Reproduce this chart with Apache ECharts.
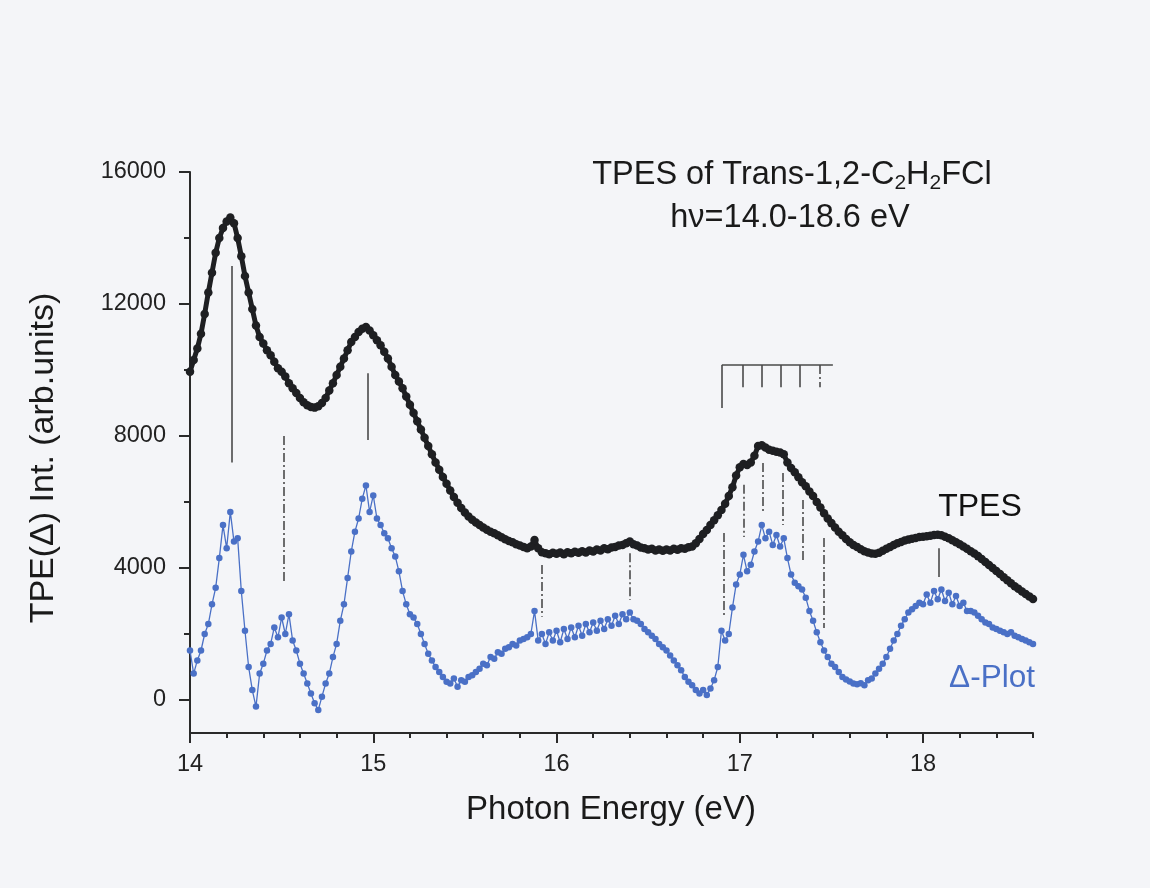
<!DOCTYPE html>
<html><head><meta charset="utf-8">
<script src="https://cdn.jsdelivr.net/npm/echarts@6/dist/echarts.min.js"></script>
<style>html,body{margin:0;padding:0;background:#f4f5f8}#c{width:1150px;height:888px}</style>
</head><body><div id="c"></div>
<script>
// Photon energy grid (eV)
const energy=[
14.00,14.02,14.04,14.06,14.08,14.10,14.12,14.14,14.16,14.18,
14.20,14.22,14.24,14.26,14.28,14.30,14.32,14.34,14.36,14.38,
14.40,14.42,14.44,14.46,14.48,14.50,14.52,14.54,14.56,14.58,
14.60,14.62,14.64,14.66,14.68,14.70,14.72,14.74,14.76,14.78,
14.80,14.82,14.84,14.86,14.88,14.90,14.92,14.94,14.96,14.98,
15.00,15.02,15.04,15.06,15.08,15.10,15.12,15.14,15.16,15.18,
15.20,15.22,15.24,15.26,15.28,15.30,15.32,15.34,15.36,15.38,
15.40,15.42,15.44,15.46,15.48,15.50,15.52,15.54,15.56,15.58,
15.60,15.62,15.64,15.66,15.68,15.70,15.72,15.74,15.76,15.78,
15.80,15.82,15.84,15.86,15.88,15.90,15.92,15.94,15.96,15.98,
16.00,16.02,16.04,16.06,16.08,16.10,16.12,16.14,16.16,16.18,
16.20,16.22,16.24,16.26,16.28,16.30,16.32,16.34,16.36,16.38,
16.40,16.42,16.44,16.46,16.48,16.50,16.52,16.54,16.56,16.58,
16.60,16.62,16.64,16.66,16.68,16.70,16.72,16.74,16.76,16.78,
16.80,16.82,16.84,16.86,16.88,16.90,16.92,16.94,16.96,16.98,
17.00,17.02,17.04,17.06,17.08,17.10,17.12,17.14,17.16,17.18,
17.20,17.22,17.24,17.26,17.28,17.30,17.32,17.34,17.36,17.38,
17.40,17.42,17.44,17.46,17.48,17.50,17.52,17.54,17.56,17.58,
17.60,17.62,17.64,17.66,17.68,17.70,17.72,17.74,17.76,17.78,
17.80,17.82,17.84,17.86,17.88,17.90,17.92,17.94,17.96,17.98,
18.00,18.02,18.04,18.06,18.08,18.10,18.12,18.14,18.16,18.18,
18.20,18.22,18.24,18.26,18.28,18.30,18.32,18.34,18.36,18.38,
18.40,18.42,18.44,18.46,18.48,18.50,18.52,18.54,18.56,18.58,
18.60];
// TPES intensity (black)
const tpes=[
9950,10300,10650,11100,11700,12350,12950,13550,14000,14300,
14500,14620,14450,14000,13450,12850,12350,11850,11350,11000,
10800,10600,10450,10250,10050,9950,9800,9600,9450,9300,
9150,9020,8930,8880,8860,8900,9000,9150,9380,9600,
9850,10100,10350,10600,10850,11000,11150,11250,11300,11200,
11050,10900,10750,10550,10350,10100,9850,9650,9450,9200,
8950,8700,8450,8200,7950,7700,7450,7200,6980,6760,
6550,6350,6150,5980,5820,5680,5560,5460,5380,5300,
5230,5160,5100,5050,4990,4930,4870,4820,4780,4720,
4680,4640,4600,4650,4850,4600,4480,4450,4420,4460,
4430,4470,4420,4480,4450,4490,4460,4510,4470,4530,
4500,4560,4530,4600,4570,4620,4640,4680,4700,4750,
4800,4720,4680,4620,4600,4560,4580,4530,4560,4520,
4560,4530,4580,4550,4600,4580,4630,4650,4750,4880,
5030,5150,5300,5450,5600,5760,5950,6180,6450,6800,
7050,7150,7120,7200,7400,7700,7720,7650,7580,7550,
7520,7500,7450,7200,7030,6900,6750,6600,6480,6320,
6180,6000,5830,5660,5500,5360,5230,5100,4990,4880,
4780,4700,4640,4570,4510,4470,4440,4430,4460,4520,
4580,4640,4700,4750,4790,4830,4860,4890,4910,4940,
4950,4960,4980,5000,5010,4990,4950,4900,4840,4780,
4720,4650,4580,4510,4440,4360,4270,4180,4090,4000,
3910,3820,3720,3630,3540,3450,3370,3290,3210,3140,
3060];
// Delta-plot intensity (blue)
const delta=[
1500,800,1200,1500,2000,2300,2900,3400,4300,5300,
4600,5700,4800,4900,3300,2100,1000,300,-200,800,
1100,1500,1700,2200,1900,2500,2000,2600,1800,1500,
1100,800,500,200,-100,-300,100,500,800,1300,
1700,2400,2900,3700,4500,5100,5500,6100,6500,5700,
6200,5500,5300,5050,4900,4600,4350,3900,3300,2900,
2600,2500,2300,2000,1700,1400,1200,1000,850,700,
550,500,650,400,600,550,700,750,850,950,
1100,1050,1300,1250,1450,1400,1550,1600,1700,1650,
1800,1850,1900,2000,2700,1800,2000,1700,2050,1800,
2100,1750,2150,1850,2200,1900,2250,1950,2300,2050,
2350,2100,2400,2150,2450,2250,2550,2300,2600,2450,
2650,2450,2400,2300,2150,2050,1950,1850,1700,1600,
1500,1350,1200,1050,900,700,550,450,300,200,
300,150,350,600,1000,2100,1800,2000,2800,3500,
3800,4400,3900,4100,4500,4800,5300,4900,5100,4700,
5000,4650,4900,4300,3800,3550,3450,3350,3100,2700,
2400,2050,1750,1500,1300,1100,1000,850,700,620,
560,500,480,510,450,600,650,800,950,1100,
1300,1550,1800,2000,2250,2450,2650,2750,2850,2950,
2900,3200,2950,3300,3050,3350,3000,3250,2900,3150,
2850,2950,2700,2700,2650,2550,2450,2350,2300,2200,
2150,2100,2050,2000,2050,1950,1900,1850,1800,1750,
1700];
// Axis ticks
const yTickLabels=[0,4000,8000,12000,16000];
const yMinorTicks=[2000,6000,10000,14000];
const xTickLabels=[14,15,16,17,18];
const xMinorTicks=[14.2,14.4,14.6,14.8,15.2,15.4,15.6,15.8,16.2,16.4,16.6,16.8,17.2,17.4,17.6,17.8,18.2,18.4,18.6];
// Assignment markers: energy, top, bottom
const solidMarkX=[14.23,14.97,18.085];
const solidMarkTop=[13150,9900,4600];
const solidMarkBottom=[7200,7880,3730];
const dashedMarkX=[14.51,15.92,16.40,16.913,17.022,17.126,17.235,17.344,17.459];
const dashedMarkTop=[8000,4090,4450,5060,6520,7180,6880,6060,4910];
const dashedMarkBottom=[3570,2520,3030,2520,4940,5700,5300,4180,2180];
// Vibrational progression comb
const combStart=16.902, combEnd=17.508, combLevel=10150;
const combTeethX=[16.902,17.016,17.120,17.224,17.328,17.437];
const combTeethBottom=[8850,9480,9480,9480,9480,9480];

const FONT='Liberation Sans, Arial, sans-serif';
const markColor='#4a4a4a';
const dashPat=[9,3,2,3];

const solidLines=solidMarkX.map((x,i)=>({coords:[[x,solidMarkTop[i]],[x,solidMarkBottom[i]]]}));
const dashedLines=dashedMarkX.map((x,i)=>({coords:[[x,dashedMarkTop[i]],[x,dashedMarkBottom[i]]]}));
const combSolid=[{coords:[[combStart,combLevel],[combEnd,combLevel]]}];
const combDashed=[];
combTeethX.forEach((x,i)=>{
  const seg={coords:[[x,combLevel],[x,combTeethBottom[i]]]};
  if(i===combTeethX.length-1) combDashed.push(seg); else combSolid.push(seg);
});

const chart=echarts.init(document.getElementById('c'),null,{renderer:'canvas'});
chart.setOption({
  backgroundColor:'#f4f5f8',
  animation:false,
  grid:{left:190,right:117,top:172,bottom:155},
  xAxis:[{
    type:'value',min:14,max:18.6,interval:1,
    axisLine:{show:true,onZero:false,lineStyle:{color:'#2a2a2a',width:2}},
    axisTick:{show:true,length:10,lineStyle:{color:'#2a2a2a',width:2},customValues:xTickLabels},
    axisLabel:{fontFamily:FONT,fontSize:23.5,color:'#222',margin:20,customValues:xTickLabels,formatter:v=>String(v)},
    splitLine:{show:false}
  },{
    type:'value',min:14,max:18.6,position:'bottom',
    axisLine:{show:false,onZero:false},
    axisTick:{show:true,length:5,lineStyle:{color:'#2a2a2a',width:2},customValues:xMinorTicks},
    axisLabel:{show:false},splitLine:{show:false}
  }],
  yAxis:[{
    type:'value',min:-1000,max:16000,
    axisLine:{show:true,onZero:false,lineStyle:{color:'#2a2a2a',width:2}},
    axisTick:{show:true,length:11,lineStyle:{color:'#2a2a2a',width:2},customValues:yTickLabels},
    axisLabel:{fontFamily:FONT,fontSize:23.5,color:'#222',margin:24,customValues:yTickLabels,formatter:v=>String(v)},
    splitLine:{show:false}
  },{
    type:'value',min:-1000,max:16000,position:'left',
    axisLine:{show:false,onZero:false},
    axisTick:{show:true,length:6,lineStyle:{color:'#2a2a2a',width:2},customValues:yMinorTicks},
    axisLabel:{show:false},splitLine:{show:false}
  }],
  series:[
    {type:'line',name:'Delta',data:energy.map((e,i)=>[e,delta[i]]),
     symbol:'circle',symbolSize:6.5,showAllSymbol:true,
     lineStyle:{color:'#4a70c6',width:1.3},itemStyle:{color:'#4a70c6'},z:3},
    {type:'line',name:'TPES',data:energy.map((e,i)=>[e,tpes[i]]),
     symbol:'circle',symbolSize:8.5,showAllSymbol:true,
     lineStyle:{color:'#1e1f22',width:5},itemStyle:{color:'#1e1f22'},z:4},
    {type:'lines',coordinateSystem:'cartesian2d',data:solidLines.concat(combSolid),
     lineStyle:{color:markColor,width:1.6,type:'solid',opacity:1},z:5},
    {type:'lines',coordinateSystem:'cartesian2d',data:dashedLines.concat(combDashed),
     lineStyle:{color:markColor,width:1.6,type:dashPat,opacity:1},z:5}
  ],
  graphic:[
    {type:'text',x:792,y:175,style:{
      text:'{a|TPES of Trans-1,2-C}{b|2}{a|H}{b|2}{a|FCl}',
      align:'center',verticalAlign:'middle',
      rich:{a:{fontFamily:FONT,fontSize:32.5,fill:'#1a1a1a',lineHeight:36},
            b:{fontFamily:FONT,fontSize:21,fill:'#1a1a1a',lineHeight:36,padding:[17,0,0,0]}}
    }},
    {type:'text',x:790,y:218,style:{text:'h\u03bd=14.0-18.6 eV',align:'center',verticalAlign:'middle',
      fontFamily:FONT,fontSize:32.5,fill:'#1a1a1a'}},
    {type:'text',x:980,y:507,style:{text:'TPES',align:'center',verticalAlign:'middle',
      fontFamily:FONT,fontSize:32,fill:'#111'}},
    {type:'text',x:992,y:678,style:{text:'\u0394-Plot',align:'center',verticalAlign:'middle',
      fontFamily:FONT,fontSize:31.5,fill:'#4a70c6'}},
    {type:'text',x:611,y:810,style:{text:'Photon Energy (eV)',align:'center',verticalAlign:'middle',
      fontFamily:FONT,fontSize:33,fill:'#1a1a1a'}},
    {type:'text',x:44,y:458,rotation:Math.PI/2,style:{text:'TPE(\u0394) Int. (arb.units)',align:'center',verticalAlign:'middle',
      fontFamily:FONT,fontSize:34,fill:'#1a1a1a'}}
  ]
});
</script></body></html>
